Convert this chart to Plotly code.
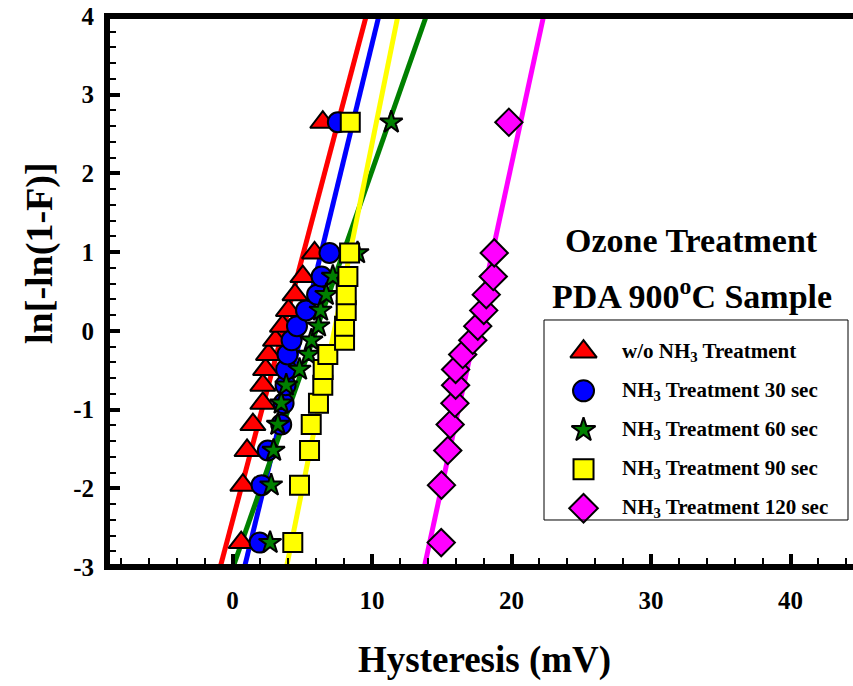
import plotly.graph_objects as go

# ln[-ln(1-F)] levels shared by all five samples
y_levels = [-2.69, -1.96, -1.52, -1.19, -0.92, -0.69, -0.49, -0.30,
            -0.12, 0.06, 0.26, 0.46, 0.69, 0.99, 2.65]

# Hysteresis (mV) for each treatment
x_wo = [0.62, 0.74, 1.04, 1.46, 2.17, 2.17, 2.37, 2.58, 3.08, 3.58, 4.01, 4.48, 5.04, 5.88, 6.47]
x_30 = [1.94, 2.08, 2.53, 3.49, 3.66, 3.80, 3.84, 3.94, 4.23, 4.62, 5.27, 6.06, 6.38, 6.95, 7.55]
x_60 = [2.69, 2.77, 2.94, 3.25, 3.49, 3.85, 4.80, 5.45, 5.66, 6.16, 6.31, 6.72, 7.19, 8.96, 11.38]
x_90 = [4.32, 4.80, 5.52, 5.64, 6.16, 6.47, 6.50, 6.83, 8.03, 8.03, 8.15, 8.15, 8.27, 8.39, 8.44]
x_120 = [14.96, 14.98, 15.43, 15.60, 15.94, 15.99, 15.99, 16.50, 17.22, 17.58, 18.01, 18.19,
         18.69, 18.76, 19.81]

# fitted Weibull lines: hysteresis at ln[-ln(1-F)] = -3 and 4
fit_y = [-3, 4]
fit_wo = [-0.88, 9.58]
fit_30 = [0.86, 10.49]
fit_60 = [0.04, 13.89]
fit_90 = [3.87, 11.85]
fit_120 = [13.75, 22.30]

series_names = [
    "w/o NH<sub>3</sub> Treatment",
    "NH<sub>3</sub> Treatment 30 sec",
    "NH<sub>3</sub> Treatment 60 sec",
    "NH<sub>3</sub> Treatment 90 sec",
    "NH<sub>3</sub> Treatment 120 sec",
]
series_x = [x_wo, x_30, x_60, x_90, x_120]
series_fit = [fit_wo, fit_30, fit_60, fit_90, fit_120]
colors = ["#FF0000", "#0000FF", "#008000", "#FFFF00", "#FF00FF"]
symbols = ["triangle-up", "circle", "star", "square", "diamond"]
sizes = [22, 20, 17, 19, 21]

x_ticks = [0, 10, 20, 30, 40]
y_ticks = [-3, -2, -1, 0, 1, 2, 3, 4]
y_tick_text = ["-3", "-2", "-1", "0", "1", "2", "3", "4"]

FONT = "Liberation Serif"

fig = go.Figure()

# fit lines under the markers
for fx, c in zip(series_fit, colors):
    fig.add_trace(go.Scatter(x=fx, y=fit_y, mode="lines",
                             line=dict(color=c, width=5),
                             showlegend=False, hoverinfo="skip"))

# measured points
for xs, c, s, sz, name in zip(series_x, colors, symbols, sizes, series_names):
    fig.add_trace(go.Scatter(x=xs, y=y_levels, mode="markers", name=name,
                             marker=dict(symbol=s, size=sz, color=c,
                                         line=dict(color="black", width=2)),
                             showlegend=False))

# legend drawn on its own overlay axes: one row per series
for i, (c, s, sz) in enumerate(zip(colors, symbols, sizes)):
    fig.add_trace(go.Scatter(x=[0.13], y=[i], xaxis="x2", yaxis="y2",
                             mode="markers", showlegend=False, hoverinfo="skip",
                             marker=dict(symbol=s, size=sz + 1, color=c,
                                         line=dict(color="black", width=2))))

annotations = []
for i, name in enumerate(series_names):
    annotations.append(dict(x=0.25, y=i, xref="x2", yref="y2", text=name,
                            showarrow=False, xanchor="left", yanchor="middle",
                            font=dict(family=FONT, size=21, color="black", weight="bold")))

annotations += [
    dict(x=0.784, y=0.5917, xref="paper", yref="paper", text="Ozone Treatment",
         showarrow=False, xanchor="center", yanchor="middle",
         font=dict(family=FONT, size=34, color="black", weight="bold")),
    dict(x=0.784, y=0.4955, xref="paper", yref="paper", text="PDA 900<sup>o</sup>C Sample",
         showarrow=False, xanchor="center", yanchor="middle",
         font=dict(family=FONT, size=34, color="black", weight="bold")),
    dict(x=0.5067, y=-0.1688, xref="paper", yref="paper", text="Hysteresis (mV)",
         showarrow=False, xanchor="center", yanchor="middle",
         font=dict(family=FONT, size=37, color="black", weight="bold")),
    dict(x=-0.0898, y=0.57, xref="paper", yref="paper", text="ln[-ln(1-F)]",
         showarrow=False, xanchor="center", yanchor="middle", textangle=-90,
         font=dict(family=FONT, size=38, color="black", weight="bold")),
]

shapes = [
    # frame: top, left and bottom edges
    dict(type="path", xref="paper", yref="paper", path="M 1 1 L 0 1 L 0 0 L 1 0",
         line=dict(color="black", width=6), layer="above"),
    # legend border
    dict(type="rect", xref="paper", yref="paper", x0=0.5858, x1=0.9933, y0=0.0853, y1=0.4483,
         line=dict(color="black", width=1), fillcolor="rgba(0,0,0,0)", layer="above"),
]

tickfont = dict(family=FONT, size=25, color="black", weight="bold")

fig.update_layout(
    width=853, height=686,
    margin=dict(l=107, r=0, t=16, b=119),
    paper_bgcolor="white", plot_bgcolor="rgba(0,0,0,0)",
    showlegend=False,
    xaxis=dict(range=[-9, 44.48], tickvals=x_ticks, ticks="inside", ticklen=13, tickwidth=4,
               tickcolor="black", showgrid=False, zeroline=False, showline=False,
               tickfont=tickfont, ticklabelstandoff=16,
               minor=dict(dtick=2, tick0=0, ticks="inside", ticklen=9, tickwidth=2,
                          tickcolor="black", showgrid=False)),
    yaxis=dict(range=[-3, 4], tickvals=y_ticks, ticktext=y_tick_text, ticks="inside",
               ticklen=13, tickwidth=4,
               tickcolor="black", showgrid=False, zeroline=False, showline=False,
               tickfont=tickfont, ticklabelstandoff=12,
               minor=dict(dtick=0.2, tick0=0, ticks="inside", ticklen=9, tickwidth=2,
                          tickcolor="black", showgrid=False)),
    xaxis2=dict(domain=[0.5858, 0.9933], range=[0, 1], anchor="y2", visible=False),
    yaxis2=dict(domain=[0.071, 0.4263], range=[4.5, -0.5], anchor="x2", visible=False),
    annotations=annotations,
    shapes=shapes,
)

fig.write_html("out.html")
